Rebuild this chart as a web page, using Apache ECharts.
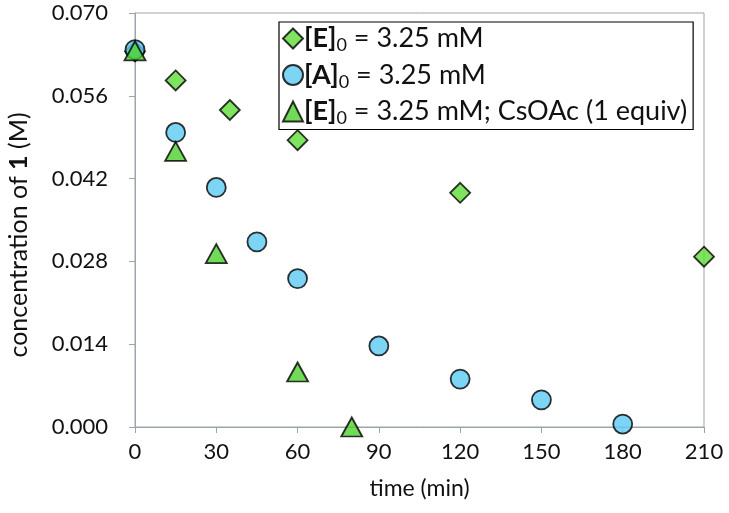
<!DOCTYPE html>
<html>
<head>
<meta charset="utf-8">
<script src="https://cdn.jsdelivr.net/npm/echarts@6/dist/echarts.min.js"></script>
<style>
  html, body { margin: 0; padding: 0; background: #fff; }
  #chart { width: 729px; height: 513px; }
</style>
</head>
<body>
<div id="chart"></div>
<script>
// time (min) / concentration (M)
const eTime = [0, 15, 35, 60, 120, 210];
const eConc = [0.0635, 0.0586, 0.0536, 0.0485, 0.0396, 0.0288];

const aTime = [0, 15, 30, 45, 60, 90, 120, 150, 180];
const aConc = [0.0638, 0.0498, 0.0405, 0.0313, 0.0251, 0.0137, 0.0081, 0.0046, 0.0005];

const csTime = [0, 15, 30, 60, 80];
const csConc = [0.0636, 0.0466, 0.0293, 0.0093, 0.0];

const seriesNames = ["E", "A", "ECs"];

const FONT = "Lato";
const AXIS_COLOR = "#9aa6ab";

function zip(xs, ys) {
  return xs.map((x, i) => [x, ys[i]]);
}

const chart = echarts.init(document.getElementById("chart"), null, { renderer: "canvas" });

const legendRich = {
  b: { fontFamily: FONT, fontSize: 27, fontWeight: "bold", color: "#111" },
  t: { fontFamily: FONT, fontSize: 27, color: "#111" },
  s: { fontFamily: FONT, fontSize: 18, color: "#111", padding: [14, 0, 0, 0] },
};

const legendText = {
  E: "{b|[E]}{s|0}{t| = 3.25 mM}",
  A: "{b|[A]}{s|0}{t| = 3.25 mM}",
  ECs: "{b|[E]}{s|0}{t| = 3.25 mM; CsOAc (1 equiv)}",
};

const option = {
  backgroundColor: "#fff",
  animation: false,
  grid: {
    left: 135,
    right: 25,
    top: 13,
    bottom: 86,
    outerBoundsMode: "none",
    show: true,
    borderColor: AXIS_COLOR,
    borderWidth: 1,
  },
  legend: {
    orient: "vertical",
    left: 279,
    top: 22,
    padding: [3, 6, 2, 3],
    itemGap: 7,
    itemWidth: 20,
    itemHeight: 20,
    backgroundColor: "#fff",
    borderColor: "#000",
    borderWidth: 1.2,
    borderRadius: 0,
    selectedMode: false,
    data: seriesNames,
    formatter: (name) => legendText[name],
    textStyle: { rich: legendRich, padding: [0, 0, 0, -4] },
  },
  xAxis: {
    type: "value",
    min: 0,
    max: 210,
    interval: 30,
    name: "time (min)",
    nameLocation: "middle",
    nameGap: 50,
    nameTextStyle: { fontFamily: FONT, fontSize: 23, color: "#111" },
    axisLine: { show: true, lineStyle: { color: AXIS_COLOR, width: 1 } },
    axisTick: { show: true, length: 6, lineStyle: { color: AXIS_COLOR } },
    axisLabel: { fontFamily: FONT, fontSize: 22, color: "#111", margin: 14 },
    splitLine: { show: false },
  },
  yAxis: {
    type: "value",
    min: 0,
    max: 0.07,
    interval: 0.014,
    name: "{t|concentration of }{b|1}{t| (M)}",
    nameLocation: "middle",
    nameGap: 104,
    nameTextStyle: {
      padding: [0, 30, 0, 0],
      rich: {
        t: { fontFamily: FONT, fontSize: 25, color: "#111" },
        b: { fontFamily: FONT, fontSize: 25, fontWeight: "bold", color: "#111" },
      },
    },
    axisLine: { show: true, lineStyle: { color: AXIS_COLOR, width: 1 } },
    axisTick: { show: true, length: 6, lineStyle: { color: AXIS_COLOR } },
    axisLabel: {
      fontFamily: FONT,
      fontSize: 22,
      color: "#111",
      margin: 27,
      formatter: (v) => v.toFixed(3),
    },
    splitLine: { show: false },
  },
  series: [
    {
      name: "E",
      type: "scatter",
      symbol: "diamond",
      symbolSize: [20, 20],
      data: zip(eTime, eConc),
      itemStyle: { color: "#5fdc37", borderColor: "#000", borderWidth: 1.8 },
    },
    {
      name: "A",
      type: "scatter",
      symbol: "circle",
      symbolSize: 19,
      data: zip(aTime, aConc),
      itemStyle: { color: "#5ccbf3", borderColor: "#000", borderWidth: 1.8 },
    },
    {
      name: "ECs",
      type: "scatter",
      symbol: "triangle",
      symbolSize: [21, 19],
      data: zip(csTime, csConc),
      itemStyle: { color: "#4fd12f", borderColor: "#000", borderWidth: 1.8 },
    },
  ],
};

chart.setOption(option);
</script>
</body>
</html>
